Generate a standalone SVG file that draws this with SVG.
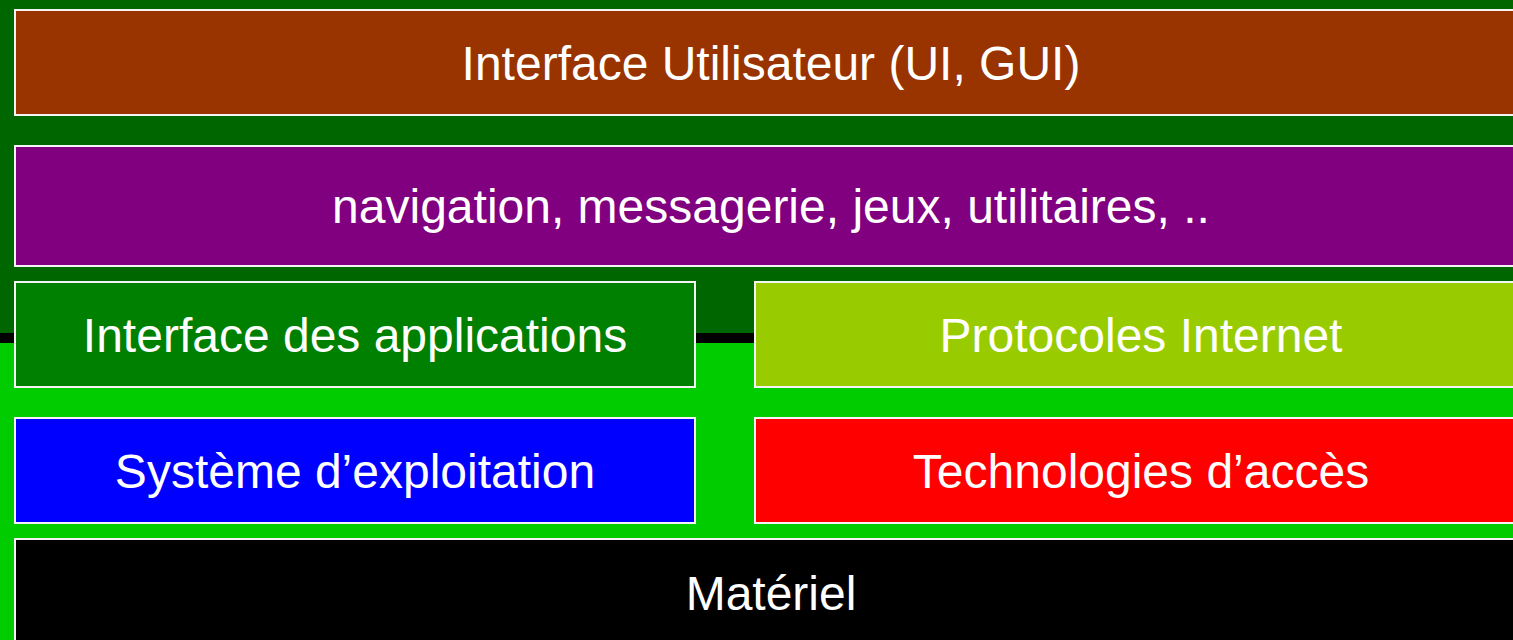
<svg xmlns="http://www.w3.org/2000/svg" width="1513" height="640" viewBox="0 0 1513 640">
  <style>
    .box { stroke: #f4f4f4; stroke-width: 2; }
    .lbl { font-family: "Liberation Sans", Arial, sans-serif; font-size: 48px; fill: #ffffff; text-anchor: middle; }
  </style>
  <!-- background bands -->
  <rect x="0" y="0" width="1513" height="333" fill="#006600"/>
  <rect x="0" y="333" width="1513" height="10" fill="#000000"/>
  <rect x="0" y="343" width="1513" height="297" fill="#00CC00"/>

  <g id="ui">
    <rect class="box" x="15" y="10" width="1512" height="105" fill="#993300"/>
    <text class="lbl" x="771" y="80">Interface Utilisateur (UI, GUI)</text>
  </g>
  <g id="apps">
    <rect class="box" x="15" y="146" width="1512" height="120" fill="#800080"/>
    <text class="lbl" x="771" y="223">navigation, messagerie, jeux, utilitaires, ..</text>
  </g>
  <g id="api">
    <rect class="box" x="15" y="282" width="680" height="105" fill="#008000"/>
    <text class="lbl" x="355" y="352">Interface des applications</text>
  </g>
  <g id="protocols">
    <rect class="box" x="755" y="282" width="772" height="105" fill="#99CC00"/>
    <text class="lbl" x="1141" y="352">Protocoles Internet</text>
  </g>
  <g id="os">
    <rect class="box" x="15" y="418" width="680" height="105" fill="#0000FF"/>
    <text class="lbl" x="355" y="488">Système d’exploitation</text>
  </g>
  <g id="access">
    <rect class="box" x="755" y="418" width="772" height="105" fill="#FF0000"/>
    <text class="lbl" x="1141" y="488">Technologies d’accès</text>
  </g>
  <g id="hardware">
    <rect class="box" x="15" y="539" width="1512" height="110" fill="#000000"/>
    <text class="lbl" x="771" y="610">Matériel</text>
  </g>
  <g id="connectors"></g>
</svg>
